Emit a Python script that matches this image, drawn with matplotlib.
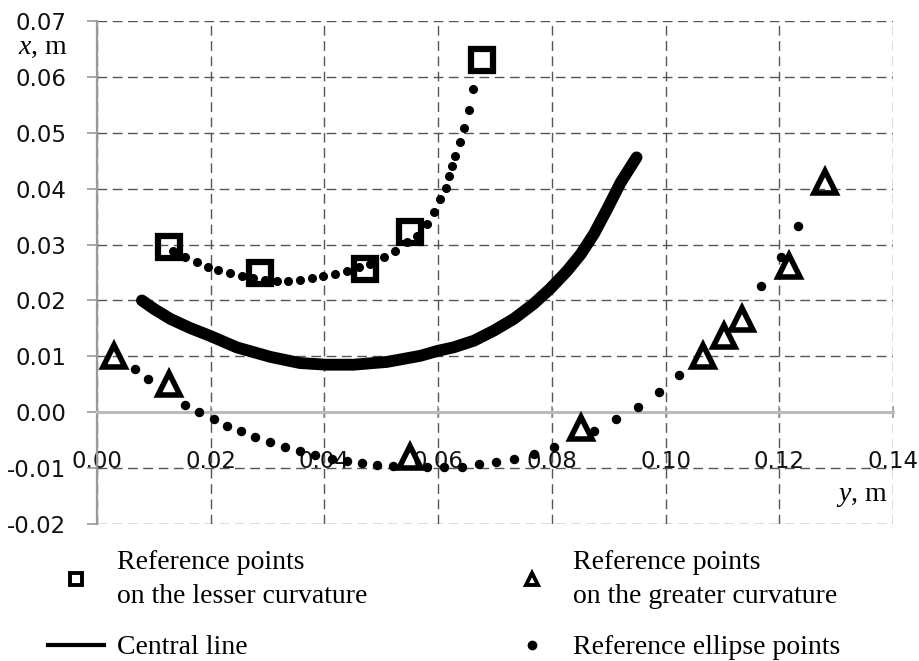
import numpy as np
import matplotlib.pyplot as plt
from matplotlib.lines import Line2D

plt.rcParams['mathtext.fontset'] = 'custom'
plt.rcParams['mathtext.rm'] = 'Liberation Serif'
plt.rcParams['mathtext.it'] = 'Liberation Serif:italic'

# reference points on the lesser curvature (horizontal = y, vertical = x)
lesser_y = [0.0126, 0.0287, 0.0472, 0.0551, 0.0677]
lesser_x = [0.0295, 0.0250, 0.0256, 0.0323, 0.0631]

# reference points on the greater curvature
greater_y = [0.0030, 0.0126, 0.0551, 0.0852, 0.1066, 0.1103, 0.1135, 0.1217, 0.1280]
greater_x = [0.0101, 0.0050, -0.0080, -0.0028, 0.0101, 0.0136, 0.0166, 0.0261, 0.0412]

# central line
central_y = [0.0079, 0.0100, 0.0129, 0.0163, 0.0198, 0.0246, 0.0305, 0.0357, 0.0403,
             0.0451, 0.0510, 0.0569, 0.0600, 0.0627, 0.0663, 0.0698, 0.0733, 0.0768,
             0.0797, 0.0827, 0.0851, 0.0874, 0.0897, 0.0921, 0.0949]
central_x = [0.0200, 0.0185, 0.0167, 0.0151, 0.0137, 0.0116, 0.0099, 0.0088, 0.0085,
             0.0085, 0.0090, 0.0101, 0.0110, 0.0116, 0.0128, 0.0146, 0.0167, 0.0194,
             0.0221, 0.0253, 0.0283, 0.0319, 0.0363, 0.0411, 0.0456]

# reference ellipse points (upper ellipse)
ell_up_y = [0.0133, 0.0155, 0.0175, 0.0195, 0.0213, 0.0234, 0.0255, 0.0275, 0.0296,
            0.0316, 0.0336, 0.0357, 0.0378, 0.0398, 0.0419, 0.0440, 0.0460, 0.0481,
            0.0504, 0.0525, 0.0545, 0.0563, 0.0580, 0.0592, 0.0604, 0.0613, 0.0619,
            0.0625, 0.0630, 0.0639, 0.0646, 0.0654, 0.0662]
ell_up_x = [0.0289, 0.0278, 0.0269, 0.0260, 0.0254, 0.0249, 0.0244, 0.0240, 0.0237,
            0.0235, 0.0235, 0.0237, 0.0240, 0.0243, 0.0247, 0.0252, 0.0259, 0.0265,
            0.0278, 0.0289, 0.0304, 0.0316, 0.0337, 0.0358, 0.0381, 0.0402, 0.0423,
            0.0441, 0.0459, 0.0483, 0.0508, 0.0541, 0.0579]

# reference ellipse points (lower ellipse)
ell_lo_y = [0.0067, 0.0089, 0.0155, 0.0180, 0.0205, 0.0229, 0.0253, 0.0278, 0.0305,
            0.0331, 0.0357, 0.0384, 0.0413, 0.0440, 0.0466, 0.0493, 0.0520, 0.0580,
            0.0610, 0.0642, 0.0671, 0.0701, 0.0733, 0.0768, 0.0803, 0.0874, 0.0912,
            0.0951, 0.0988, 0.1024, 0.1167, 0.1203, 0.1233]
ell_lo_x = [0.0078, 0.0060, 0.0013, 0.0000, -0.0012, -0.0024, -0.0034, -0.0044, -0.0054,
            -0.0062, -0.0070, -0.0077, -0.0083, -0.0088, -0.0091, -0.0094, -0.0096, -0.0098,
            -0.0098, -0.0098, -0.0092, -0.0089, -0.0084, -0.0074, -0.0062, -0.0034, -0.0012,
            0.0009, 0.0037, 0.0066, 0.0226, 0.0278, 0.0333]

xticks = np.round(np.arange(0, 0.1401, 0.02), 2)
yticks = np.round(np.arange(-0.02, 0.0701, 0.01), 2)

fig = plt.figure(figsize=(9.19, 6.61), dpi=100)
ax = fig.add_axes([97/919, 1-524/661, (893-97)/919, (524-21)/661])

ax.plot(ell_up_y, ell_up_x, 'o', color='black', markersize=5.5, ls='none', zorder=3)
ax.plot(ell_lo_y, ell_lo_x, 'o', color='black', markersize=5.8, ls='none', zorder=3)
ax.plot(central_y, central_x, '-', color='black', lw=8.5, solid_capstyle='round',
        solid_joinstyle='round', zorder=4)
ax.plot(lesser_y, lesser_x, 's', ls='none', markersize=16.5, markerfacecolor='none',
        markeredgecolor='black', markeredgewidth=4.5, zorder=5)
ax.plot(greater_y, greater_x, '^', ls='none', markersize=16.5, markerfacecolor='none',
        markeredgecolor='black', markeredgewidth=4, zorder=5)

ax.set_xlim(0, 0.14)
ax.set_ylim(-0.02, 0.07)
ax.set_xticks(xticks)
ax.set_yticks(yticks)
ax.set_xticklabels(['%.2f' % v for v in xticks])
ax.set_yticklabels(['%.2f' % v for v in yticks])
ax.set_axisbelow(True)
ax.grid(True, color='#555555', lw=1.0, ls=(0, (7, 4)))

for s in ['top', 'right']:
    ax.spines[s].set_visible(False)
ax.spines['bottom'].set_position(('data', 0))
ax.spines['bottom'].set_color('#bbbbbb')
ax.spines['bottom'].set_linewidth(2.2)
ax.spines['left'].set_color('#999999')
ax.spines['left'].set_linewidth(1.6)
ax.tick_params(axis='y', direction='out', length=7, width=1.2, color='#999999',
               labelsize=16.5, labelcolor='#111111', pad=15)
ax.tick_params(axis='x', direction='inout', length=8, width=1.2, color='#999999',
               labelsize=16.5, labelcolor='#111111', pad=23)

ax.text(-0.0051, 0.0641, r'$\it{x}$, m', fontsize=20, family='Liberation Serif',
        ha='right', va='baseline')
ax.text(0.1391, -0.0158, r'$\it{y}$, m', fontsize=20, family='Liberation Serif',
        ha='right', va='baseline')

handles = [
    Line2D([], [], marker='s', ls='none', color='black', markerfacecolor='none',
           markersize=8.5, markeredgewidth=2.8),
    Line2D([], [], color='black', lw=3),
    Line2D([], [], marker='^', ls='none', color='black', markerfacecolor='none',
           markersize=8.5, markeredgewidth=2.8),
    Line2D([], [], marker='o', ls='none', color='black', markersize=6),
]
labels = ['Reference points\non the lesser curvature', 'Central line',
          'Reference points\non the greater curvature', 'Reference ellipse points']
leg = fig.legend(handles, labels, ncol=2, loc='upper left',
                 bbox_to_anchor=(48/919, 1-550/661),
                 frameon=False, prop={'family': 'Liberation Serif', 'size': 20},
                 handlelength=2.0, handletextpad=0.5, columnspacing=4.9,
                 labelspacing=0.95, borderpad=0, borderaxespad=0)
for t in leg.get_texts():
    t.set_linespacing(1.45)

fig.savefig('out.png', dpi=100)
